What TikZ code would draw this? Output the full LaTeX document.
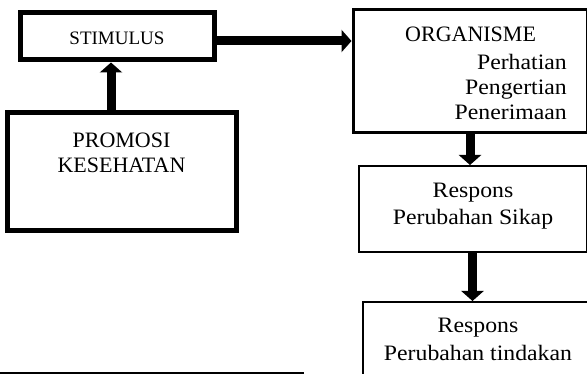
\documentclass[tikz,border=0pt]{standalone}
\usepackage{fontspec}
\setmainfont{Liberation Serif}
\newfontfamily\widefont[FakeStretch=1.08]{Liberation Serif}
\usetikzlibrary{arrows.meta}

\tikzset{
  thickbox/.style={draw, line width=5pt, rectangle, inner sep=0pt},
  thinbox/.style={draw, line width=2pt, rectangle, inner sep=0pt},
  midbox/.style={draw, line width=3pt, rectangle, inner sep=0pt},
  caps/.style={inner sep=0pt, anchor=base, font=\fontsize{22}{25}\selectfont},
  words/.style={inner sep=0pt, anchor=base, font=\widefont\fontsize{22}{25}\selectfont},
  bigarrow/.style={line width=9pt, -{Triangle[width=22pt,length=10pt]}},
}

\begin{document}
\begin{tikzpicture}[x=1pt,y=-1pt]
  \clip (0,0) rectangle (587,374);
  \fill[white] (0,0) rectangle (587,374);

  % left column
  \node[thickbox, minimum width=194pt, minimum height=47pt] (stim) at (117,36.5) {};
  \node[caps, font=\fontsize{19}{21}\selectfont] (stimtxt) at (117,45) {STIMULUS};

  \node[thickbox, minimum width=229pt, minimum height=118pt] (promo) at (121.5,172) {};
  \node[caps] (promo1) at (121.5,148) {PROMOSI};
  \node[caps] (promo2) at (121.5,173) {KESEHATAN};

  % right column
  \node[midbox, minimum width=234pt, minimum height=123pt] (org) at (470,71.5) {};
  \node[caps, anchor=base west] (orgtitle) at (405,41.7) {ORGANISME};
  \node[words, anchor=base east] (org1) at (567,70) {Perhatian};
  \node[words, anchor=base east] (org2) at (567,95) {Pengertian};
  \node[words, anchor=base east] (org3) at (567,120) {Penerimaan};

  \node[thinbox, minimum width=228pt, minimum height=86pt] (resp1) at (472.5,209) {};
  \node[words] (resp1a) at (473,198) {Respons};
  \node[words] (resp1b) at (473,225) {Perubahan Sikap};

  \node[thinbox, minimum width=280pt, minimum height=120pt] (resp2) at (503,362) {};
  \node[words] (resp2a) at (478,333) {Respons};
  \node[words] (resp2b) at (478,360) {Perubahan tindakan};

  % connectors
  \draw[bigarrow] ([yshift=-4.5pt]stim.east) -- ([yshift=-4.5pt]stim.east -| org.west);
  \draw[bigarrow] ([xshift=-10.5pt]promo.north) -- ([xshift=-10.5pt]promo.north |- stim.south);
  \draw[bigarrow] (org.south) -- (org.south |- resp1.north);
  \draw[bigarrow] (resp1.south) -- (resp1.south |- resp2.north);

  % rule at the foot of the page
  \draw[line width=1.5pt] (0,373) -- (304,373);
\end{tikzpicture}
\end{document}
